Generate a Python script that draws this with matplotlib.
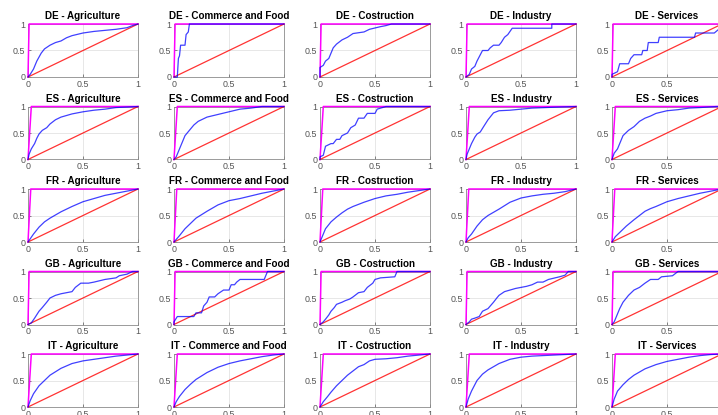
#!/usr/bin/env python3
# roc curves per country and sector, 5x5 grid. magenta = perfect classifier,
# red = chance line, blue = model roc.

import matplotlib
matplotlib.use("Agg")
import matplotlib.pyplot as plt

plt.rcParams["font.family"] = ["Liberation Sans", "DejaVu Sans"]

COUNTRIES = ["DE", "ES", "FR", "GB", "IT"]
SECTORS = ["Agriculture", "Commerce and Food", "Costruction", "Industry", "Services"]

# x where the "perfect" line reaches 1, per country
PERFECT_X = [0.01, 0.03, 0.025, 0.01, 0.03]

# (fpr, tpr)
DE_AGRICULTURE = ([0, 0.02, 0.05, 0.08, 0.12, 0.15, 0.2, 0.25, 0.3, 0.35, 0.4, 0.5, 0.6, 0.7, 0.8, 0.9, 0.95, 1],
                  [0, 0.05, 0.15, 0.3, 0.45, 0.53, 0.6, 0.65, 0.68, 0.74, 0.78, 0.83, 0.86, 0.88, 0.9, 0.93, 0.97, 1])
DE_COMMERCE = ([0, 0.03, 0.04, 0.05, 0.06, 0.1, 0.11, 0.13, 0.14, 1],
               [0, 0, 0.35, 0.4, 0.6, 0.6, 0.8, 0.85, 1, 1])
DE_COSTRUCTION = ([0, 0, 0.03, 0.05, 0.08, 0.1, 0.12, 0.15, 0.2, 0.25, 0.3, 0.4, 0.45, 0.55, 0.6, 0.65, 1],
                  [0, 0.18, 0.22, 0.3, 0.35, 0.45, 0.55, 0.62, 0.7, 0.75, 0.82, 0.85, 0.9, 0.95, 0.97, 1, 1])
DE_INDUSTRY = ([0, 0.03, 0.05, 0.08, 0.1, 0.12, 0.15, 0.2, 0.22, 0.25, 0.3, 0.32, 0.35, 0.38, 0.42, 0.78, 0.78, 1],
               [0, 0.05, 0.15, 0.2, 0.3, 0.38, 0.5, 0.5, 0.55, 0.6, 0.6, 0.65, 0.75, 0.8, 0.92, 0.92, 1, 1])
DE_SERVICES = ([0, 0, 0.05, 0.07, 0.15, 0.17, 0.2, 0.27, 0.28, 0.32, 0.33, 0.42, 0.43, 0.75, 0.76, 0.93, 0.97, 1],
               [0, 0.05, 0.1, 0.25, 0.25, 0.35, 0.42, 0.42, 0.5, 0.5, 0.65, 0.65, 0.75, 0.75, 0.83, 0.83, 0.9, 1])

ES_AGRICULTURE = ([0, 0.01, 0.03, 0.06, 0.08, 0.1, 0.13, 0.17, 0.2, 0.25, 0.3, 0.4, 0.5, 0.6, 0.7, 0.8, 0.9, 1],
                  [0, 0.1, 0.2, 0.3, 0.4, 0.48, 0.55, 0.6, 0.67, 0.75, 0.8, 0.86, 0.9, 0.93, 0.95, 0.98, 0.99, 1])
ES_COMMERCE = ([0, 0.02, 0.04, 0.06, 0.08, 0.1, 0.14, 0.18, 0.22, 0.3, 0.4, 0.5, 0.6, 0.7, 0.8, 1],
               [0, 0.05, 0.15, 0.25, 0.35, 0.45, 0.55, 0.65, 0.72, 0.8, 0.85, 0.9, 0.95, 0.97, 1, 1])
ES_COSTRUCTION = ([0, 0, 0.03, 0.05, 0.1, 0.12, 0.15, 0.18, 0.2, 0.25, 0.28, 0.32, 0.35, 0.4, 0.43, 0.5, 0.52, 0.6, 1],
                  [0, 0.05, 0.08, 0.25, 0.3, 0.3, 0.38, 0.38, 0.45, 0.5, 0.6, 0.65, 0.78, 0.78, 0.87, 0.87, 0.95, 1, 1])
ES_INDUSTRY = ([0, 0.01, 0.03, 0.05, 0.08, 0.1, 0.13, 0.16, 0.2, 0.25, 0.3, 0.4, 0.5, 0.6, 0.85, 1],
               [0, 0.1, 0.2, 0.3, 0.42, 0.48, 0.52, 0.62, 0.75, 0.88, 0.92, 0.93, 0.95, 0.97, 0.99, 1])
ES_SERVICES = ([0, 0.02, 0.05, 0.08, 0.1, 0.15, 0.2, 0.25, 0.3, 0.35, 0.4, 0.5, 0.6, 0.7, 0.8, 0.95, 1],
               [0, 0.12, 0.2, 0.35, 0.45, 0.55, 0.62, 0.72, 0.78, 0.82, 0.87, 0.92, 0.94, 0.97, 0.98, 1, 1])

FR_AGRICULTURE = ([0, 0.05, 0.1, 0.15, 0.2, 0.3, 0.4, 0.5, 0.6, 0.7, 0.8, 0.9, 1],
                  [0, 0.15, 0.28, 0.38, 0.45, 0.57, 0.67, 0.76, 0.82, 0.88, 0.92, 0.96, 1])
FR_COMMERCE = ([0, 0.05, 0.1, 0.15, 0.2, 0.3, 0.4, 0.5, 0.6, 0.7, 0.8, 0.9, 1],
               [0, 0.12, 0.25, 0.35, 0.45, 0.58, 0.7, 0.78, 0.82, 0.87, 0.92, 0.96, 1])
FR_COSTRUCTION = ([0, 0.03, 0.05, 0.1, 0.15, 0.2, 0.25, 0.3, 0.4, 0.5, 0.6, 0.7, 0.8, 0.9, 1],
                  [0, 0.15, 0.25, 0.38, 0.47, 0.55, 0.62, 0.67, 0.75, 0.82, 0.87, 0.9, 0.94, 0.97, 1])
FR_INDUSTRY = ([0, 0.02, 0.05, 0.1, 0.15, 0.2, 0.3, 0.4, 0.5, 0.6, 0.7, 0.8, 0.9, 1],
               [0, 0.08, 0.15, 0.3, 0.42, 0.5, 0.62, 0.75, 0.83, 0.87, 0.9, 0.92, 0.95, 1])
FR_SERVICES = ([0, 0.03, 0.08, 0.13, 0.2, 0.3, 0.35, 0.4, 0.5, 0.6, 0.7, 0.8, 0.9, 1],
               [0, 0.1, 0.2, 0.3, 0.42, 0.58, 0.63, 0.67, 0.76, 0.82, 0.87, 0.92, 0.96, 1])

GB_AGRICULTURE = ([0, 0.03, 0.06, 0.1, 0.13, 0.17, 0.2, 0.25, 0.3, 0.35, 0.4, 0.43, 0.48, 0.55, 0.6, 0.7, 0.8, 0.83, 0.9, 0.95, 1],
                  [0, 0.03, 0.12, 0.25, 0.32, 0.42, 0.5, 0.55, 0.58, 0.6, 0.62, 0.7, 0.78, 0.78, 0.8, 0.85, 0.88, 0.92, 0.95, 1, 1])
GB_COMMERCE = ([0, 0, 0.03, 0.18, 0.2, 0.25, 0.27, 0.3, 0.32, 0.37, 0.4, 0.45, 0.5, 0.52, 0.55, 0.57, 0.6, 0.82, 0.85, 1],
               [0, 0.05, 0.15, 0.15, 0.22, 0.22, 0.35, 0.42, 0.52, 0.52, 0.58, 0.65, 0.65, 0.75, 0.75, 0.8, 0.85, 0.85, 1, 1])
GB_COSTRUCTION = ([0, 0.03, 0.05, 0.08, 0.1, 0.13, 0.15, 0.2, 0.23, 0.27, 0.3, 0.35, 0.4, 0.43, 0.48, 0.5, 0.55, 0.68, 0.7, 1],
                  [0, 0.05, 0.1, 0.18, 0.25, 0.32, 0.38, 0.42, 0.45, 0.48, 0.52, 0.6, 0.62, 0.7, 0.78, 0.85, 0.88, 0.9, 1, 1])
GB_INDUSTRY = ([0, 0.03, 0.05, 0.08, 0.12, 0.15, 0.2, 0.25, 0.28, 0.3, 0.35, 0.4, 0.45, 0.5, 0.55, 0.6, 0.65, 0.7, 0.75, 0.85, 0.9, 0.93, 1],
               [0, 0.05, 0.1, 0.12, 0.15, 0.25, 0.3, 0.42, 0.5, 0.55, 0.62, 0.65, 0.68, 0.7, 0.72, 0.75, 0.8, 0.8, 0.85, 0.9, 0.93, 1, 1])
GB_SERVICES = ([0, 0.02, 0.04, 0.07, 0.1, 0.15, 0.2, 0.25, 0.3, 0.35, 0.42, 0.45, 0.55, 0.6, 1],
               [0, 0.05, 0.15, 0.3, 0.42, 0.55, 0.65, 0.7, 0.78, 0.85, 0.85, 0.9, 0.92, 1, 1])

IT_AGRICULTURE = ([0, 0.02, 0.05, 0.1, 0.15, 0.2, 0.3, 0.4, 0.5, 0.6, 0.7, 0.8, 0.9, 1],
                  [0, 0.12, 0.25, 0.4, 0.5, 0.6, 0.73, 0.82, 0.87, 0.9, 0.93, 0.96, 0.98, 1])
IT_COMMERCE = ([0, 0.02, 0.05, 0.1, 0.15, 0.2, 0.3, 0.4, 0.5, 0.6, 0.7, 0.8, 0.9, 1],
               [0, 0.1, 0.2, 0.33, 0.43, 0.52, 0.65, 0.75, 0.82, 0.87, 0.91, 0.95, 0.98, 1])
IT_COSTRUCTION = ([0, 0.03, 0.07, 0.1, 0.15, 0.2, 0.25, 0.3, 0.35, 0.4, 0.45, 0.5, 0.6, 0.7, 0.8, 0.9, 1],
                  [0, 0.1, 0.2, 0.28, 0.4, 0.5, 0.6, 0.68, 0.76, 0.8, 0.87, 0.9, 0.91, 0.93, 0.96, 0.98, 1])
IT_INDUSTRY = ([0, 0.02, 0.05, 0.1, 0.15, 0.2, 0.3, 0.4, 0.5, 0.6, 0.7, 0.8, 0.9, 1],
               [0, 0.15, 0.3, 0.5, 0.62, 0.7, 0.82, 0.9, 0.94, 0.96, 0.97, 0.98, 0.99, 1])
IT_SERVICES = ([0, 0.02, 0.05, 0.1, 0.15, 0.2, 0.3, 0.4, 0.5, 0.6, 0.7, 0.8, 0.9, 1],
               [0, 0.15, 0.3, 0.42, 0.52, 0.6, 0.72, 0.8, 0.86, 0.9, 0.94, 0.97, 0.99, 1])

CURVES = [
    [DE_AGRICULTURE, DE_COMMERCE, DE_COSTRUCTION, DE_INDUSTRY, DE_SERVICES],
    [ES_AGRICULTURE, ES_COMMERCE, ES_COSTRUCTION, ES_INDUSTRY, ES_SERVICES],
    [FR_AGRICULTURE, FR_COMMERCE, FR_COSTRUCTION, FR_INDUSTRY, FR_SERVICES],
    [GB_AGRICULTURE, GB_COMMERCE, GB_COSTRUCTION, GB_INDUSTRY, GB_SERVICES],
    [IT_AGRICULTURE, IT_COMMERCE, IT_COSTRUCTION, IT_INDUSTRY, IT_SERVICES],
]

W, H = 718, 415
fig = plt.figure(figsize=(W / 100, H / 100), dpi=100)

# pixel layout of the original subplot grid (last column runs off the edge)
left0, col_step, ax_w = 28, 146, 110
top0, row_step, ax_h = 24, 82.5, 53

for i, country in enumerate(COUNTRIES):
    for j, sector in enumerate(SECTORS):
        l = left0 + j * col_step
        t = top0 + i * row_step
        ax = fig.add_axes([l / W, 1 - (t + ax_h) / H, ax_w / W, ax_h / H])
        fpr, tpr = CURVES[i][j]
        px = PERFECT_X[i]
        # lines sit on the box edges, so draw them above the spines unclipped
        ax.plot([0, px, 1], [0, 1, 1], color="#ff00ff", lw=1.1,
                clip_on=False, zorder=3)
        ax.plot([0, 1], [0, 1], color="#ff0000", lw=0.9, alpha=0.8,
                clip_on=False, zorder=3)
        ax.plot(fpr, tpr, color="#0000ff", lw=0.9, alpha=0.75,
                clip_on=False, zorder=3)
        ax.set_xlim(0, 1)
        ax.set_ylim(0, 1)
        ax.set_xticks([0, 0.5, 1])
        ax.set_xticklabels(["0", "0.5", "1"])
        ax.set_yticks([0, 0.5, 1])
        ax.set_yticklabels(["0", "0.5", "1"])
        ax.tick_params(direction="in", length=2, width=0.5, pad=2,
                       labelsize=6.4, colors="#555555")
        ax.grid(True, color="#e3e3e3", lw=0.6)
        ax.set_axisbelow(True)
        for s in ax.spines.values():
            s.set_color("#8a8a8a")
            s.set_linewidth(0.6)
        ax.set_title(f"{country} - {sector}", fontsize=7.1,
                     fontweight="bold", pad=3.5)

fig.savefig("out.png", dpi=100)
